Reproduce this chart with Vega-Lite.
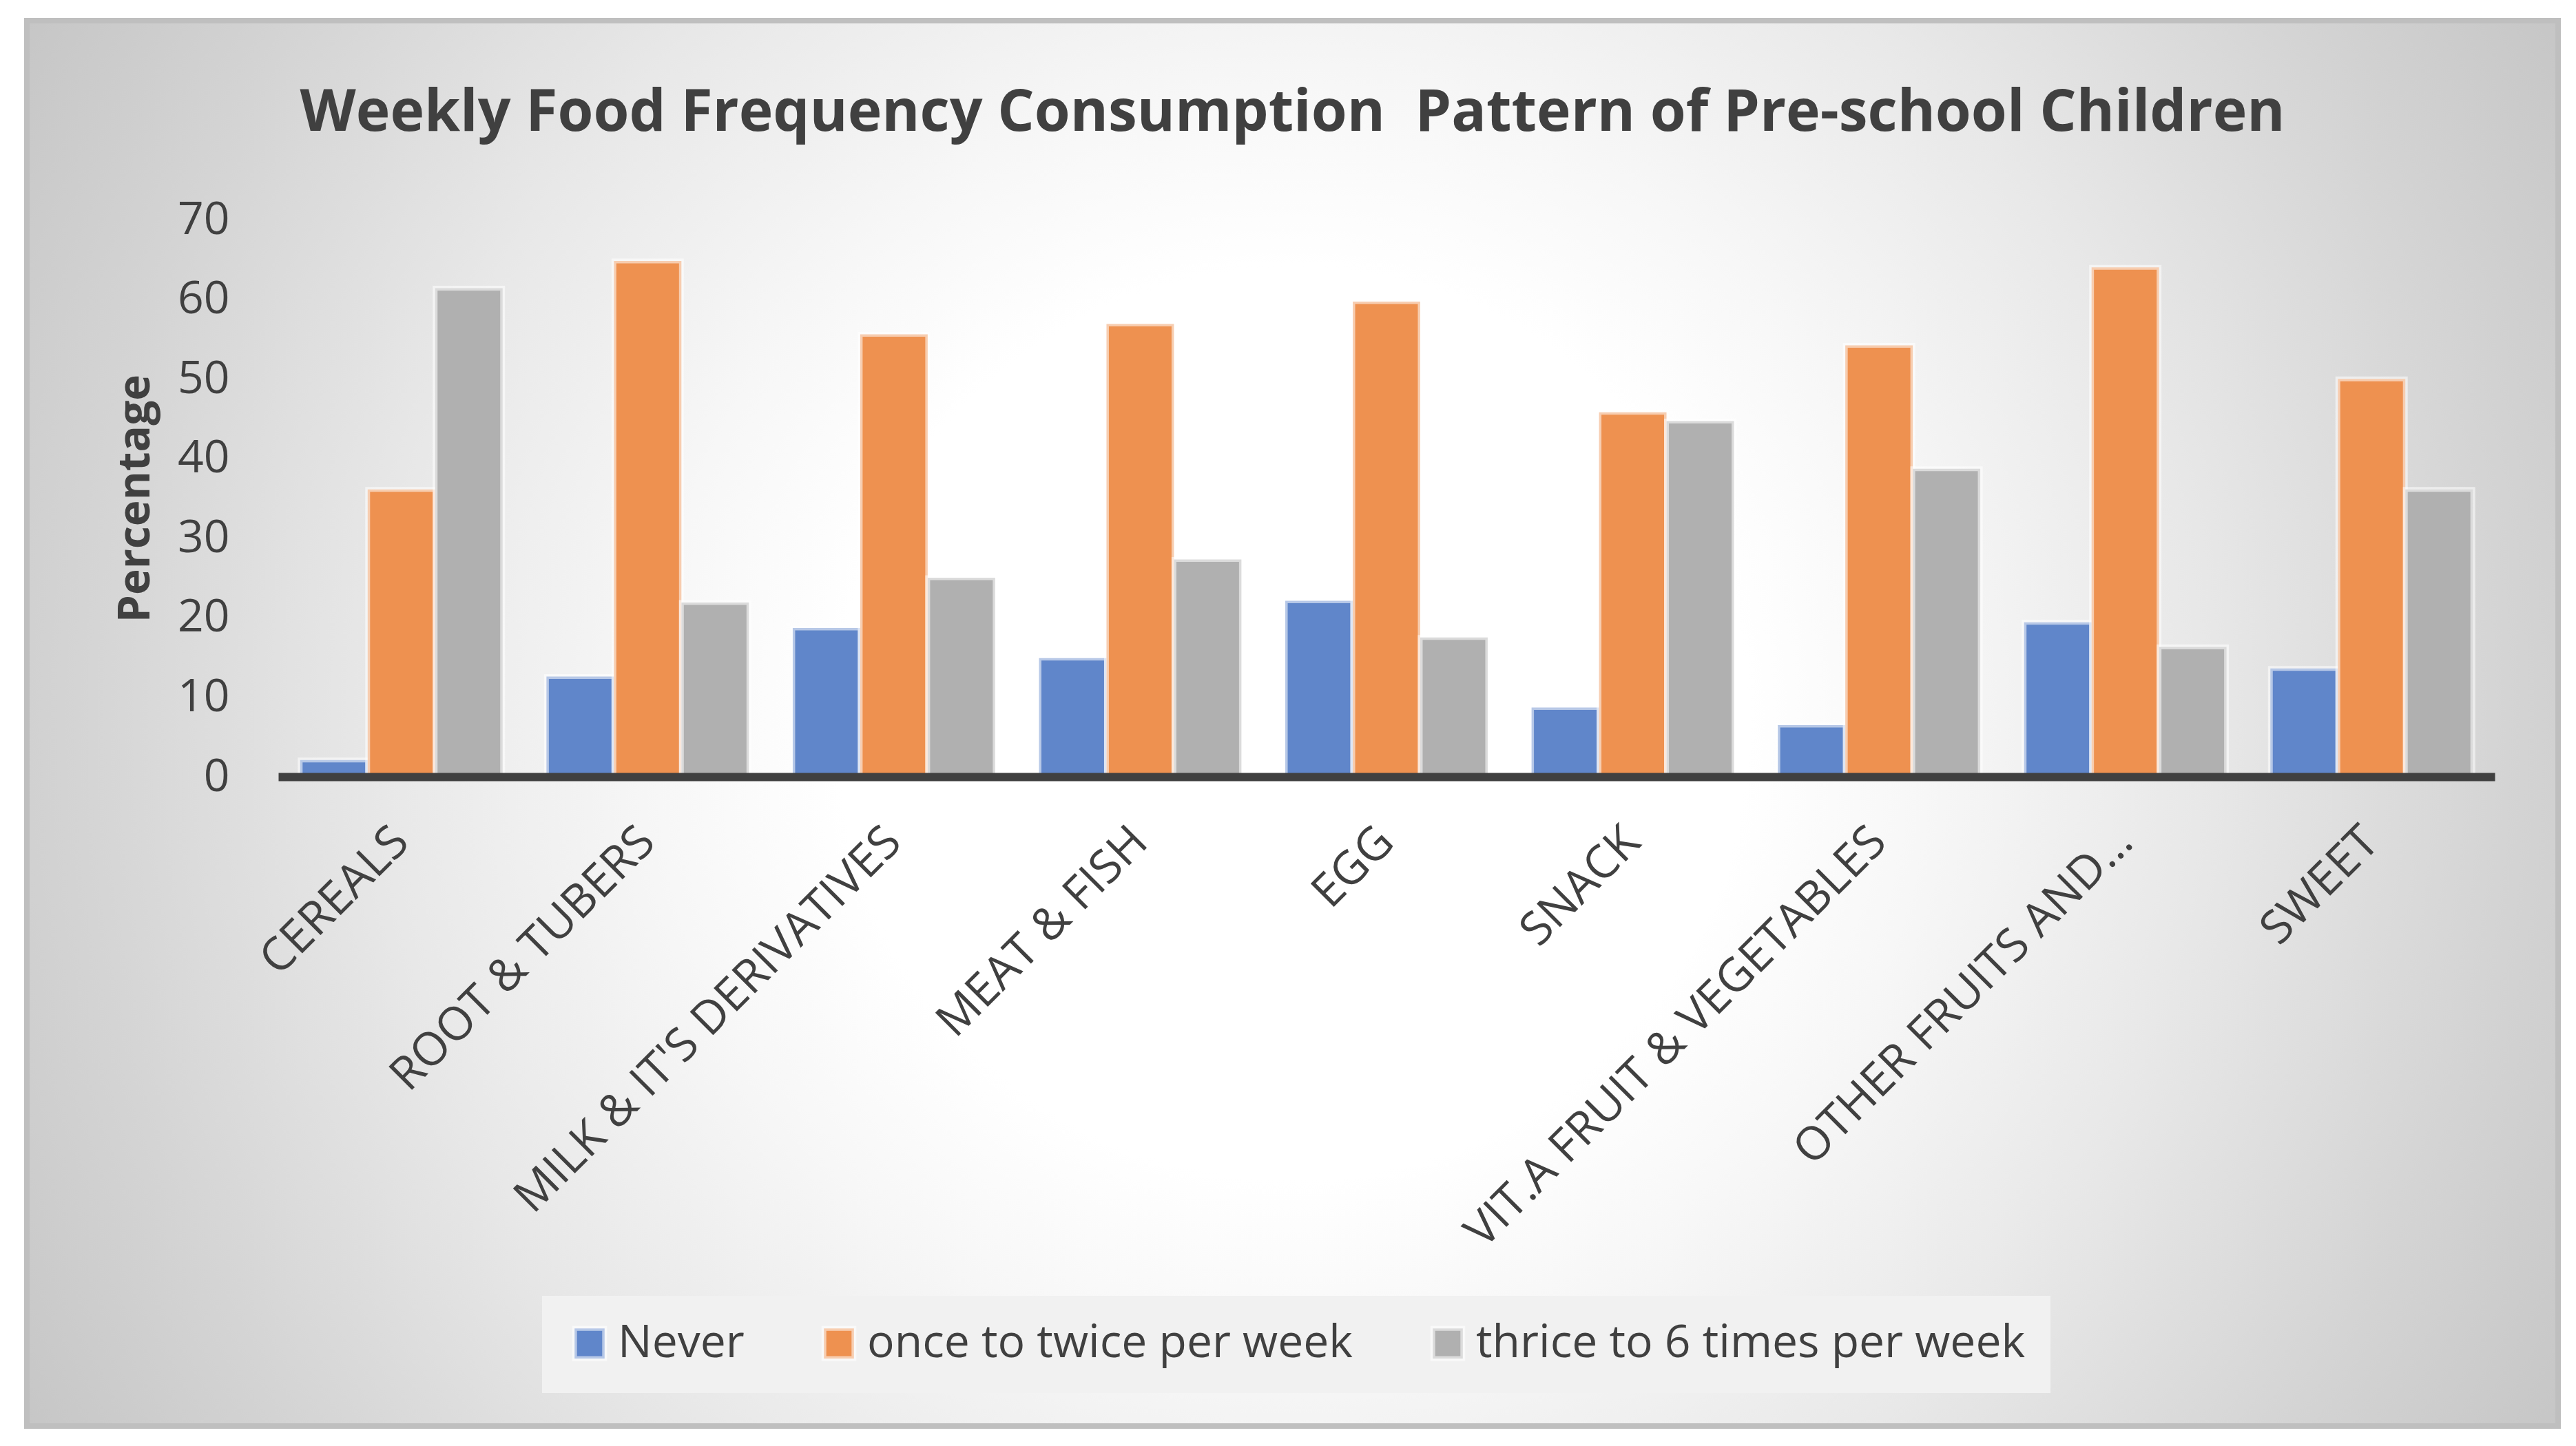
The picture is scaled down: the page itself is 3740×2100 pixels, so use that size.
{
  "$schema": "https://vega.github.io/schema/vega-lite/v6.json",
  "width": 3675,
  "height": 2041,
  "autosize": {"type": "none"},
  "padding": {"left": 39, "top": 30, "right": 26, "bottom": 29},
  "background": "#FFFFFF",
  "title": {
    "text": "Weekly Food Frequency Consumption\u00a0 Pattern of Pre-school Children",
    "font": "Open Sans",
    "fontSize": 84,
    "fontWeight": "bold",
    "color": "#404040",
    "anchor": "middle",
    "frame": "group",
    "offset": -178
  },
  "data": {
    "values": [
      {"category": "CEREALS", "series": "Never", "value": 2.1},
      {"category": "CEREALS", "series": "once to twice per week", "value": 36.1},
      {"category": "CEREALS", "series": "thrice to 6 times per week", "value": 61.4},
      {"category": "ROOT & TUBERS", "series": "Never", "value": 12.6},
      {"category": "ROOT & TUBERS", "series": "once to twice per week", "value": 64.8},
      {"category": "ROOT & TUBERS", "series": "thrice to 6 times per week", "value": 21.9},
      {"category": "MILK & IT'S DERIVATIVES", "series": "Never", "value": 18.7},
      {"category": "MILK & IT'S DERIVATIVES", "series": "once to twice per week", "value": 55.6},
      {"category": "MILK & IT'S DERIVATIVES", "series": "thrice to 6 times per week", "value": 25.0},
      {"category": "MEAT & FISH", "series": "Never", "value": 14.9},
      {"category": "MEAT & FISH", "series": "once to twice per week", "value": 56.9},
      {"category": "MEAT & FISH", "series": "thrice to 6 times per week", "value": 27.3},
      {"category": "EGG", "series": "Never", "value": 22.1},
      {"category": "EGG", "series": "once to twice per week", "value": 59.7},
      {"category": "EGG", "series": "thrice to 6 times per week", "value": 17.5},
      {"category": "SNACK", "series": "Never", "value": 8.7},
      {"category": "SNACK", "series": "once to twice per week", "value": 45.8},
      {"category": "SNACK", "series": "thrice to 6 times per week", "value": 44.7},
      {"category": "VIT.A FRUIT & VEGETABLES", "series": "Never", "value": 6.5},
      {"category": "VIT.A FRUIT & VEGETABLES", "series": "once to twice per week", "value": 54.2},
      {"category": "VIT.A FRUIT & VEGETABLES", "series": "thrice to 6 times per week", "value": 38.7},
      {"category": "OTHER FRUITS AND…", "series": "Never", "value": 19.4},
      {"category": "OTHER FRUITS AND…", "series": "once to twice per week", "value": 64.0},
      {"category": "OTHER FRUITS AND…", "series": "thrice to 6 times per week", "value": 16.3},
      {"category": "SWEET", "series": "Never", "value": 13.6},
      {"category": "SWEET", "series": "once to twice per week", "value": 50.0},
      {"category": "SWEET", "series": "thrice to 6 times per week", "value": 36.1}
    ]
  },
  "mark": {
    "type": "bar",
    "stroke": "white",
    "strokeOpacity": 0.55,
    "strokeWidth": 7
  },
  "encoding": {
    "x": {
      "field": "category",
      "type": "nominal",
      "sort": null,
      "scale": {"paddingInner": 0.178, "paddingOuter": 0.089, "range": [365, 3583]},
      "axis": {
        "title": null,
        "offset": -943,
        "labelAngle": -45,
        "labelBaseline": "middle",
        "labelFont": "Open Sans",
        "labelFontSize": 67,
        "labelColor": "#404040",
        "labelPadding": 84,
        "ticks": false,
        "domainColor": "#404040",
        "domainWidth": 12,
        "zindex": 1,
        "labelLimit": 2000
      }
    },
    "xOffset": {
      "field": "series",
      "type": "nominal",
      "sort": ["Never", "once to twice per week", "thrice to 6 times per week"],
      "scale": {"paddingInner": 0, "paddingOuter": 0}
    },
    "y": {
      "field": "value",
      "type": "quantitative",
      "scale": {"domain": [0, 70], "nice": false, "range": [1098, 289]},
      "axis": {
        "title": "Percentage",
        "offset": -365,
        "titleFont": "Open Sans",
        "titleFontSize": 64,
        "titleFontWeight": "bold",
        "titleColor": "#404040",
        "titlePadding": 28,
        "values": [0, 10, 20, 30, 40, 50, 60, 70],
        "labelFont": "Open Sans",
        "labelFontSize": 66,
        "labelColor": "#404040",
        "labelPadding": 71,
        "ticks": false,
        "domain": false,
        "grid": false
      }
    },
    "color": {
      "field": "series",
      "type": "nominal",
      "scale": {
        "domain": ["Never", "once to twice per week", "thrice to 6 times per week"],
        "range": ["#6086CA", "#EE9150", "#B0B0B0"]
      },
      "legend": {
        "title": null,
        "orient": "none",
        "legendX": 748,
        "legendY": 1852,
        "direction": "horizontal",
        "labelFont": "Open Sans",
        "labelFontSize": 66,
        "labelColor": "#404040",
        "labelLimit": 2000,
        "symbolType": "square",
        "symbolSize": 1900,
        "symbolStrokeColor": "rgba(255,255,255,0.55)",
        "symbolStrokeWidth": 7,
        "labelOffset": 8,
        "columnPadding": 101,
        "fillColor": "#F1F1F1",
        "padding": 36
      }
    }
  },
  "config": {
    "view": {
      "stroke": "#BFBFBF",
      "strokeWidth": 8,
      "fill": {
        "gradient": "radial",
        "x1": 0.5, "y1": 0.5, "r1": 0,
        "x2": 0.5, "y2": 0.5, "r2": 0.6,
        "stops": [
          {"offset": 0, "color": "#FFFFFF"},
          {"offset": 0.3, "color": "#FFFFFF"},
          {"offset": 0.42, "color": "#F7F7F7"},
          {"offset": 0.6, "color": "#E8E8E8"},
          {"offset": 0.8, "color": "#D4D4D4"},
          {"offset": 1, "color": "#C2C2C2"}
        ]
      }
    }
  }
}
